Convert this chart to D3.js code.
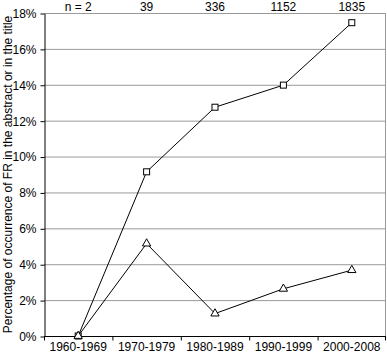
<!DOCTYPE html>
<html lang="en">
<head>
<meta charset="utf-8">
<script src="https://d3js.org/d3.v7.min.js"></script>
<style>
body { margin: 0; background: #fff; }
text { font-family: "Liberation Sans", Arial, sans-serif; }
</style>
</head>
<body>
<script>
// decades and the sample sizes printed above the plot
var decades = ["1960-1969", "1970-1979", "1980-1989", "1990-1999", "2000-2008"];
var nLabels = ["n = 2", "39", "336", "1152", "1835"];
// percentages (squares and triangles)
var squareVals = [0, 9.15, 12.75, 13.98, 17.46];
var triangleVals = [0, 5.15, 1.25, 2.63, 3.67];
var yTicks = [0, 2, 4, 6, 8, 10, 12, 14, 16, 18];

var w = 387, h = 353;
var margin = {left: 44, right: 1, top: 13, bottom: 17};

var svg = d3.select("body").append("svg").attr("width", w).attr("height", h);

var x = d3.scaleBand().domain(decades).range([margin.left, w - margin.right]);
var y = d3.scaleLinear().domain([0, 18]).range([h - margin.bottom, margin.top]);

// gridlines
svg.append("g").selectAll("line").data(yTicks.filter(function(d) { return d > 0; }))
  .enter().append("line")
  .attr("x1", margin.left).attr("x2", w - margin.right)
  .attr("y1", function(d) { return y(d) + 0.5; }).attr("y2", function(d) { return y(d) + 0.5; })
  .attr("stroke", "#999").attr("stroke-width", 1);

// right border
svg.append("line")
  .attr("x1", w - margin.right - 0.5).attr("x2", w - margin.right - 0.5)
  .attr("y1", y(18)).attr("y2", y(0))
  .attr("stroke", "#999");

// axes
var yAxis = svg.append("g").attr("transform", "translate(" + (margin.left + 0.5) + ",0.5)")
  .call(d3.axisLeft(y).tickValues(yTicks).tickSize(4).tickSizeOuter(0).tickFormat(function(d) { return d + "%"; }));
yAxis.selectAll("text").attr("font-size", 12).attr("fill", "#000").attr("dx", "-1");
yAxis.select(".domain").attr("stroke", "#000");

var xAxis = svg.append("g").attr("transform", "translate(0," + (y(0) + 0.5) + ")");
xAxis.append("line").attr("x1", margin.left).attr("x2", w - margin.right).attr("stroke", "#000");
xAxis.selectAll("line.tk").data(decades.concat(["end"])).enter().append("line")
  .attr("class", "tk")
  .attr("x1", function(d, i) { return i < decades.length ? x(d) + 0.5 : w - margin.right - 0.5; })
  .attr("x2", function(d, i) { return i < decades.length ? x(d) + 0.5 : w - margin.right - 0.5; })
  .attr("y1", 0).attr("y2", 4).attr("stroke", "#000");
xAxis.selectAll("text").data(decades).enter().append("text")
  .attr("x", function(d) { return x(d) + x.bandwidth() / 2; })
  .attr("y", 14.5).attr("text-anchor", "middle").attr("font-size", 12).text(function(d) { return d; });

// n labels on top
svg.selectAll("text.n").data(nLabels).enter().append("text")
  .attr("class", "n")
  .attr("x", function(d, i) { return x(decades[i]) + x.bandwidth() / 2; })
  .attr("y", 11).attr("text-anchor", "middle").attr("font-size", 12).text(function(d) { return d; });

// y title
svg.append("text")
  .attr("transform", "translate(12," + ((y(0) + y(18)) / 2) + ") rotate(-90)")
  .attr("text-anchor", "middle").attr("font-size", 12)
  .text("Percentage of occurrence of FR in the abstract or in the title");

function cx(i) { return x(decades[i]) + x.bandwidth() / 2; }

var line = d3.line().x(function(d, i) { return cx(i); }).y(function(d) { return y(d); });

svg.append("path").datum(squareVals).attr("d", line).attr("fill", "none").attr("stroke", "#000").attr("stroke-width", 1);
svg.append("path").datum(triangleVals).attr("d", line).attr("fill", "none").attr("stroke", "#000").attr("stroke-width", 1);

svg.selectAll("rect.sq").data(squareVals).enter().append("rect")
  .attr("class", "sq")
  .attr("x", function(d, i) { return cx(i) - 3; }).attr("y", function(d) { return y(d) - 3; })
  .attr("width", 6).attr("height", 6).attr("fill", "#fff").attr("stroke", "#000");

var tri = d3.symbol().type(d3.symbolTriangle).size(30);
svg.selectAll("path.tri").data(triangleVals).enter().append("path")
  .attr("class", "tri")
  .attr("transform", function(d, i) { return "translate(" + cx(i) + "," + y(d) + ")"; })
  .attr("d", tri).attr("fill", "#fff").attr("stroke", "#000");
</script>
</body>
</html>
